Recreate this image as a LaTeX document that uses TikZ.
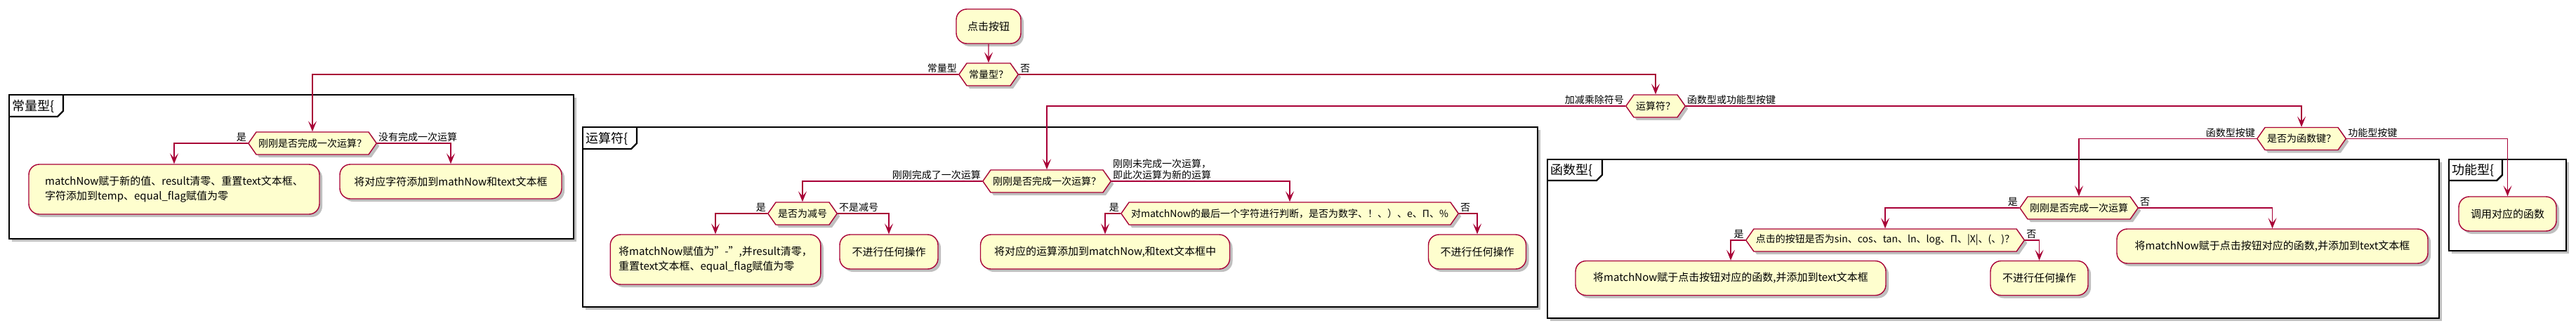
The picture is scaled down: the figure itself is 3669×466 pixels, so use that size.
\documentclass[tikz,border=0pt]{standalone}
\usepackage{fontspec}
\setmainfont{Noto Sans CJK SC}
\usetikzlibrary{arrows.meta, positioning, shapes.symbols, shadows}

\definecolor{umlred}{HTML}{A80036}
\definecolor{umlfill}{HTML}{FEFECE}

\begin{document}
\begin{tikzpicture}[
		x=1pt, y=-1pt,
		>={Stealth[length=15pt, width=12pt, inset=7pt]},
		shd/.style={drop shadow={shadow xshift=4pt, shadow yshift=-4pt, opacity=0.25, fill=black}},
		act/.style={draw=umlred, fill=umlfill, line width=1.4pt, rounded corners=15pt, minimum height=49pt, inner xsep=12pt, align=left, font=\fontsize{15}{21}\selectfont, shd},
		cond/.style={signal, signal to=east and west, signal pointer angle=110, draw=umlred, fill=umlfill, line width=1.4pt, minimum height=32pt, inner xsep=3pt, font=\fontsize{14}{17}\selectfont, shd},
		fl/.style={->, draw=umlred, line width=1.3pt},
		lbl/.style={font=\fontsize{14}{16}\selectfont, inner sep=1.5pt, align=left},
		frm/.style={draw=black, line width=2.4pt, fill=white, shd},
		tab/.style={font=\fontsize{18}{20}\selectfont, inner sep=2pt, anchor=west}
	]
	\useasboundingbox (0,0) rectangle (3669,466);

	% partitions
	\draw[frm] (13,135) rectangle (817,340);
	\draw[line width=2.4pt] (13,166) -- (82,166) -- (90,158) -- (90,135);
	\node[tab] (tconst) at (15,151) {常量型\{};

	\draw[frm] (830,181) rectangle (2190,437);
	\draw[line width=2.4pt] (830,212) -- (899,212) -- (907,204) -- (907,181);
	\node[tab] (top) at (832,197) {运算符\{};

	\draw[frm] (2204,227) rectangle (3474,453);
	\draw[line width=2.4pt] (2204,257) -- (2274,257) -- (2282,249) -- (2282,227);
	\node[tab] (tfunc) at (2206,242) {函数型\{};

	\draw[frm] (3488,227) rectangle (3655,357);
	\draw[line width=2.4pt] (3488,257) -- (3556,257) -- (3564,249) -- (3564,227);
	\node[tab] (tfeat) at (3490,242) {功能型\{};

	% top
	\node[act, minimum width=92pt] (click) at (1408,37.5) {点击按钮};
	\node[cond] (qconst) at (1408,106) {常量型？};

	% constant
	\node[cond] (qdone1) at (445,204) {刚刚是否完成一次运算？};
	\node[act, minimum width=414pt, minimum height=71pt] (setnew) at (248,269.5) {matchNow赋于新的值、result清零、重置text文本框、\\字符添加到temp、equal\_flag赋值为零};
	\node[act, minimum width=316pt] (append) at (642,258.5) {将对应字符添加到mathNow和text文本框};

	% operator
	\node[cond] (qop) at (2358,151) {运算符？};
	\node[cond] (qdone2) at (1491,258) {刚刚是否完成一次运算？};
	\node[cond] (qminus) at (1143,304) {是否为减号};
	\node[act, minimum width=298pt, minimum height=71pt] (setminus) at (1019,369.5) {将matchNow赋值为"-",并result清零，\\重置text文本框、equal\_flag赋值为零};
	\node[act, minimum width=140pt] (noop1) at (1266,358.5) {不进行任何操作};
	\node[cond] (qlast) at (1837,304) {对matchNow的最后一个字符进行判断，是否为数字、！、）、e、Π、\%};
	\node[act, minimum width=355pt] (addop) at (1574,358.5) {将对应的运算添加到matchNow,和text文本框中};
	\node[act, minimum width=139pt] (noop2) at (2104,358.5) {不进行任何操作};

	% function / feature
	\node[cond] (qfunc) at (3278,197.5) {是否为函数键？};
	\node[cond] (qdone3) at (2961,296) {刚刚是否完成一次运算};
	\node[cond] (qbtn) at (2685,342) {点击的按钮是否为sin、cos、tan、ln、log、Π、|X|、(、)？};
	\node[act, minimum width=442pt] (setfunc1) at (2465,396) {将matchNow赋于点击按钮对应的函数,并添加到text文本框};
	\node[act, minimum width=139pt] (noop3) at (2904.5,396) {不进行任何操作};
	\node[act, minimum width=443pt] (setfunc2) at (3236.5,350.5) {将matchNow赋于点击按钮对应的函数,并添加到text文本框};
	\node[act, minimum width=139pt] (call) at (3571.5,304.5) {调用对应的函数};

	\draw[fl] (click) -- (qconst);
	\draw[fl] (qconst.west) node[lbl, anchor=south east] {常量型} -| (qdone1.north);
	\draw[fl] (qconst.east) node[lbl, anchor=south west] {否} -| (qop.north);
	\draw[fl] (qdone1.west) node[lbl, anchor=south east] {是} -| (setnew.north);
	\draw[fl] (qdone1.east) node[lbl, anchor=south west] {没有完成一次运算} -| (append.north);

	\draw[fl] (qop.west) node[lbl, anchor=south east] {加减乘除符号} -| (qdone2.north);
	\draw[fl] (qop.east) node[lbl, anchor=south west] {函数型或功能型按键} -| (qfunc.north);
	\draw[fl] (qdone2.west) node[lbl, anchor=south east] {刚刚完成了一次运算} -| (qminus.north);
	\draw[fl] (qdone2.east) node[lbl, anchor=south west] {刚刚未完成一次运算，\\即此次运算为新的运算} -| (qlast.north);
	\draw[fl] (qminus.west) node[lbl, anchor=south east] {是} -| (setminus.north);
	\draw[fl] (qminus.east) node[lbl, anchor=south west] {不是减号} -| (noop1.north);
	\draw[fl] (qlast.west) node[lbl, anchor=south east] {是} -| (addop.north);
	\draw[fl] (qlast.east) node[lbl, anchor=south west] {否} -| (noop2.north);

	\draw[fl] (qfunc.west) node[lbl, anchor=south east] {函数型按键} -| (qdone3.north);
	\draw[fl] (qfunc.east) node[lbl, anchor=south west] {功能型按键} -| (call.north);
	\draw[fl] (qdone3.west) node[lbl, anchor=south east] {是} -| (qbtn.north);
	\draw[fl] (qdone3.east) node[lbl, anchor=south west] {否} -| (setfunc2.north);
	\draw[fl] (qbtn.west) node[lbl, anchor=south east] {是} -| (setfunc1.north);
	\draw[fl] (qbtn.east) node[lbl, anchor=south west] {否} -| (noop3.north);
\end{tikzpicture}
\end{document}
